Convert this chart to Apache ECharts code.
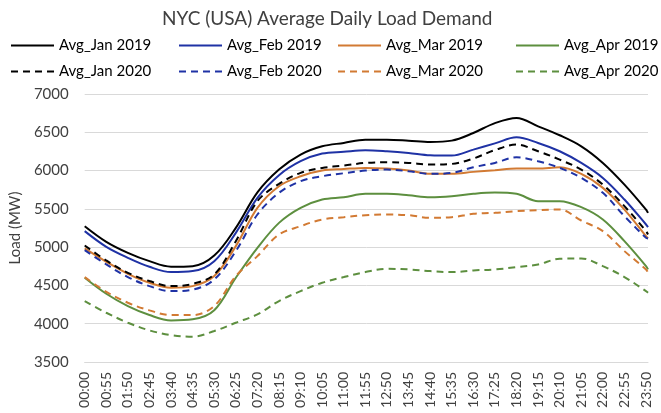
<!DOCTYPE html>
<html>
<head>
<meta charset="utf-8">
<script src="https://cdn.jsdelivr.net/npm/echarts@6/dist/echarts.min.js"></script>
<style>
  html, body { margin: 0; padding: 0; background: #fff; }
  #main { width: 661px; height: 413px; }
</style>
</head>
<body>
<div id="main"></div>
<script>
// x tick labels, one every 11 steps of 5 minutes
var tickLabels = ['00:00', '00:55', '01:50', '02:45', '03:40', '04:35', '05:30', '06:25', '07:20',
  '08:15', '09:10', '10:05', '11:00', '11:55', '12:50', '13:45', '14:40', '15:35', '16:30',
  '17:25', '18:20', '19:15', '20:10', '21:05', '22:00', '22:55', '23:50'];
var stepsPerTick = 11;
var lastStep = 287; // 23:55

// values read at each tick label, plus the last point (23:55)
var jan2019 = [5274, 5070, 4926, 4817, 4745, 4752, 4890, 5252, 5715, 6013, 6209, 6317, 6361, 6404,
  6404, 6391, 6374, 6391, 6491, 6620, 6687, 6578, 6461, 6317, 6100, 5817, 5491, 5448];
var feb2019 = [5209, 5004, 4861, 4743, 4674, 4687, 4817, 5187, 5643, 5939, 6122, 6222, 6245, 6265,
  6252, 6230, 6200, 6196, 6274, 6355, 6435, 6361, 6252, 6100, 5904, 5622, 5296, 5261];
var jan2020 = [5022, 4826, 4665, 4557, 4491, 4520, 4643, 5078, 5600, 5826, 5970, 6035, 6065, 6100,
  6109, 6100, 6078, 6087, 6157, 6268, 6339, 6252, 6143, 6013, 5817, 5535, 5209, 5165];
var feb2020 = [4961, 4774, 4609, 4491, 4426, 4445, 4578, 4948, 5426, 5709, 5861, 5926, 5965, 6000,
  6013, 5991, 5957, 5970, 6043, 6100, 6174, 6122, 6035, 5904, 5709, 5404, 5122, 5113];
var mar2019 = [4983, 4809, 4652, 4535, 4470, 4491, 4622, 5013, 5513, 5796, 5926, 6000, 6020, 6035,
  6026, 6000, 5957, 5957, 5983, 6005, 6026, 6026, 6043, 5957, 5774, 5491, 5143, 5113];
var mar2020 = [4609, 4417, 4274, 4174, 4113, 4113, 4230, 4622, 4883, 5165, 5274, 5361, 5391, 5417,
  5426, 5417, 5383, 5391, 5435, 5448, 5470, 5483, 5491, 5348, 5209, 4948, 4709, 4665];
var apr2019 = [4600, 4391, 4230, 4113, 4043, 4057, 4175, 4600, 4991, 5317, 5513, 5622, 5652, 5696,
  5696, 5678, 5652, 5665, 5696, 5712, 5696, 5600, 5600, 5522, 5361, 5078, 4752, 4709];
var apr2020 = [4296, 4143, 4013, 3913, 3852, 3830, 3904, 4013, 4122, 4296, 4426, 4535, 4609, 4674,
  4717, 4709, 4687, 4674, 4696, 4709, 4739, 4774, 4848, 4852, 4752, 4609, 4426, 4404];

var sampleSteps = tickLabels.map(function (t, i) { return i * stepsPerTick; }).concat([lastStep]);

var seriesList = [
  { name: 'Avg_Jan 2019', data: jan2019, color: '#000000', dash: 'solid' },
  { name: 'Avg_Feb 2019', data: feb2019, color: '#1f32a5', dash: 'solid' },
  { name: 'Avg_Mar 2019', data: mar2019, color: '#d27a33', dash: 'solid' },
  { name: 'Avg_Apr 2019', data: apr2019, color: '#5d8f3f', dash: 'solid' },
  { name: 'Avg_Jan 2020', data: jan2020, color: '#000000', dash: [7, 5] },
  { name: 'Avg_Feb 2020', data: feb2020, color: '#1f32a5', dash: [7, 5] },
  { name: 'Avg_Mar 2020', data: mar2020, color: '#d27a33', dash: [7, 5] },
  { name: 'Avg_Apr 2020', data: apr2020, color: '#5d8f3f', dash: [7, 5] }
];

var legendLeft = [10, 178, 337, 515];
var legendTop = [38, 64];
var fontName = 'Lato, "Open Sans", sans-serif';

var myChart = echarts.init(document.getElementById('main'));

var option = {
  animation: false,
  title: {
    text: 'NYC (USA) Average Daily Load Demand',
    left: 157,
    top: 4,
    textStyle: { fontFamily: fontName, fontSize: 19, fontWeight: 'normal', color: '#404040' }
  },
  legend: seriesList.map(function (s, i) {
    return {
      data: [s.name],
      left: legendLeft[i % 4],
      top: legendTop[Math.floor(i / 4)],
      padding: 0,
      itemWidth: 43,
      itemHeight: 14,
      itemStyle: { opacity: 0 },
      textStyle: { fontFamily: fontName, fontSize: 15, color: '#000' }
    };
  }),
  grid: { left: 79, right: 13, top: 94, bottom: 51 },
  xAxis: {
    type: 'value',
    min: 0,
    max: lastStep,
    interval: stepsPerTick,
    axisLine: { show: true, lineStyle: { color: '#d9d9d9' } },
    axisTick: { show: false },
    splitLine: { show: false },
    axisLabel: {
      rotate: 90,
      margin: 10,
      showMaxLabel: false,
      fontFamily: fontName,
      fontSize: 14,
      color: '#404040',
      formatter: function (v) {
        return v % stepsPerTick === 0 ? tickLabels[v / stepsPerTick] : '';
      }
    }
  },
  yAxis: {
    type: 'value',
    min: 3500,
    max: 7000,
    interval: 500,
    name: 'Load (MW)',
    nameLocation: 'middle',
    nameGap: 60,
    nameTextStyle: { fontFamily: fontName, fontSize: 15, color: '#404040' },
    axisLine: { show: false },
    axisTick: { show: false },
    splitLine: { lineStyle: { color: '#d9d9d9', width: 1 } },
    axisLabel: {
      fontFamily: fontName, fontSize: 15, color: '#404040', margin: 16,
      formatter: function (v) { return String(v); }
    }
  },
  series: seriesList.map(function (s) {
    return {
      name: s.name,
      type: 'line',
      smooth: 0.35,
      symbol: 'none',
      color: s.color,
      lineStyle: { color: s.color, width: 2, type: s.dash },
      data: sampleSteps.map(function (step, i) { return [step, s.data[i]]; })
    };
  })
};

myChart.setOption(option);
</script>
</body>
</html>
